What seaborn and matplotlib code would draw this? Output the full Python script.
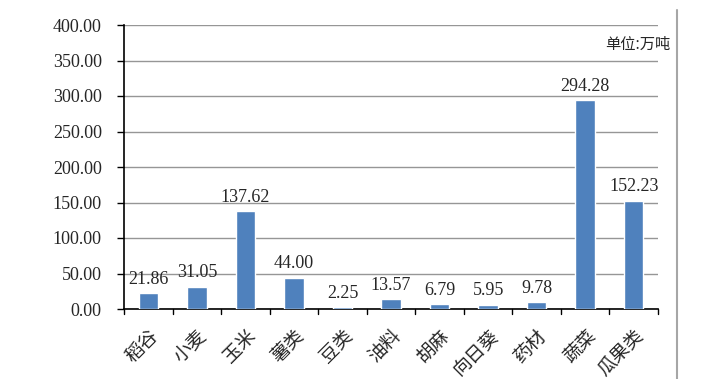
import matplotlib
matplotlib.use("Agg")
from matplotlib import pyplot as plt
import seaborn as sns
import pandas as pd

# data (unit: 万吨)
categories = ["稻谷", "小麦", "玉米", "薯类", "豆类", "油料", "胡麻", "向日葵", "药材", "蔬菜", "瓜果类"]
values = [21.86, 31.05, 137.62, 44.00, 2.25, 13.57, 6.79, 5.95, 9.78, 294.28, 152.23]
y_ticks = [0, 50, 100, 150, 200, 250, 300, 350, 400]

df = pd.DataFrame({"crop": categories, "amount": values})

sns.set_style("white")
plt.rcParams["font.family"] = ["Liberation Serif", "Noto Sans CJK SC"]

fig = plt.figure(figsize=(7.15, 3.79), dpi=100)
ax = fig.add_axes([124 / 715, 1 - 309 / 379, (658 - 124) / 715, (309 - 25) / 379])

sns.barplot(data=df, x="crop", y="amount", color="#4F81BD", width=0.4,
            saturation=1, ax=ax, zorder=3)

ax.set_ylim(0, 400)
ax.set_xlim(-0.5, len(categories) - 0.5)
ax.set_yticks(y_ticks)
ax.set_yticklabels([f"{t:.2f}" for t in y_ticks], fontsize=13)
ax.yaxis.grid(True, color="#969696", linewidth=1, zorder=0)
ax.set_xlabel("")
ax.set_ylabel("")

# tick marks between categories on the x axis
ax.set_xticks(range(len(categories)))
ax.set_xticklabels(categories, rotation=45, ha="right", rotation_mode="anchor",
                   fontsize=13.5, family=["Noto Sans CJK SC"])
ax.tick_params(axis="x", length=0, pad=12)
ax.tick_params(axis="y", length=5, width=1, direction="out", color="black", left=True, pad=11)
for i in range(len(categories) + 1):
    ax.plot([i - 0.5, i - 0.5], [0, -0.018], transform=ax.get_xaxis_transform(),
            color="black", linewidth=1, clip_on=False)

for s in ["top", "right"]:
    ax.spines[s].set_visible(False)
ax.spines["left"].set_color("black")
ax.spines["bottom"].set_color("black")
ax.spines["left"].set_linewidth(1.2)
ax.spines["bottom"].set_linewidth(1.2)

# value labels
for i, v in enumerate(values):
    ax.annotate(f"{v:.2f}", (i, v), xytext=(0, 4), textcoords="offset points",
                ha="center", va="bottom", fontsize=13)

fig.text(670 / 715, 1 - 44 / 379, "单位:万吨", ha="right", va="center", fontsize=11,
         family=["Noto Sans CJK SC"])

# vertical frame line on the right
fig.add_artist(plt.Line2D([677 / 715, 677 / 715], [0, 1 - 10 / 379], color="#A6A6A6",
                          linewidth=1.5, transform=fig.transFigure))

fig.savefig("out.png", dpi=100)
